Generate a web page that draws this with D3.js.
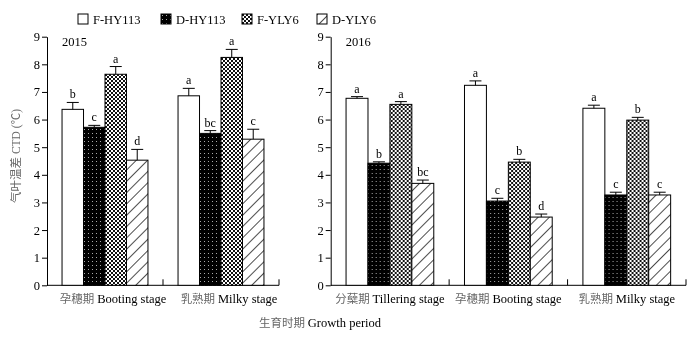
<!DOCTYPE html>
<html>
<head>
<meta charset="utf-8">
<script src="https://cdn.jsdelivr.net/npm/d3@7"></script>
<style>
  body { margin: 0; background: #fff; }
  svg { will-change: transform; -webkit-font-smoothing: antialiased; }
  text { font-family: "Liberation Serif", "Noto Sans CJK SC", serif; }
</style>
</head>
<body>
<svg id="chart"></svg>
<script>
// data
const series = ["F-HY113", "D-HY113", "F-YLY6", "D-YLY6"];
const stages2015 = ["孕穗期 Booting stage", "乳熟期 Milky stage"];
const stages2016 = ["分蘖期 Tillering stage", "孕穗期 Booting stage", "乳熟期 Milky stage"];
const yTicks = [0, 1, 2, 3, 4, 5, 6, 7, 8, 9];

// one row per stage, one column per series
const ctd2015 = [[6.37, 5.72, 7.64, 4.53], [6.86, 5.50, 8.25, 5.29]];
const err2015 = [[0.25, 0.07, 0.28, 0.39], [0.27, 0.10, 0.29, 0.36]];
const sig2015 = [["b", "c", "a", "d"], ["a", "bc", "a", "c"]];

const ctd2016 = [[6.77, 4.42, 6.55, 3.69], [7.24, 3.05, 4.46, 2.47], [6.41, 3.27, 5.98, 3.27]];
const err2016 = [[0.06, 0.05, 0.10, 0.12], [0.16, 0.10, 0.10, 0.11], [0.11, 0.10, 0.10, 0.10]];
const sig2016 = [["a", "b", "a", "bc"], ["a", "c", "b", "d"], ["a", "c", "b", "c"]];

const width = 699, height = 337;
const svg = d3.select("#chart").attr("width", width).attr("height", height);

// fill patterns
const defs = svg.append("defs");

const dots = defs.append("pattern").attr("id", "pat-dots")
  .attr("patternUnits", "userSpaceOnUse").attr("width", 4).attr("height", 4);
dots.append("rect").attr("width", 4).attr("height", 4).attr("fill", "#000");
dots.append("rect").attr("x", 1).attr("y", 1).attr("width", 1).attr("height", 1).attr("fill", "#aaa");

const check = defs.append("pattern").attr("id", "pat-check")
  .attr("patternUnits", "userSpaceOnUse").attr("width", 4).attr("height", 4);
check.append("rect").attr("width", 4).attr("height", 4).attr("fill", "#fff");
check.append("rect").attr("x", 0).attr("y", 0).attr("width", 2).attr("height", 2).attr("fill", "#111");
check.append("rect").attr("x", 2).attr("y", 2).attr("width", 2).attr("height", 2).attr("fill", "#111");

const hatch = defs.append("pattern").attr("id", "pat-hatch")
  .attr("patternUnits", "userSpaceOnUse").attr("width", 8).attr("height", 8)
  .attr("patternTransform", "rotate(45)");
hatch.append("rect").attr("width", 8).attr("height", 8).attr("fill", "#fff");
hatch.append("line").attr("x1", 0).attr("y1", 0).attr("x2", 0).attr("y2", 8)
  .attr("stroke", "#000").attr("stroke-width", 1.4);

const fills = d3.scaleOrdinal()
  .domain(series)
  .range(["#fff", "url(#pat-dots)", "url(#pat-check)", "url(#pat-hatch)"]);

// shared value scale
const y = d3.scaleLinear().domain([0, 9]).range([285.3, 36.7]);

function cjkLabel(sel, label) {
  const i = label.indexOf(" ");
  sel.append("tspan").attr("fill", "#666").attr("font-size", 11.5).text(label.slice(0, i + 1));
  sel.append("tspan").attr("fill", "#000").text(label.slice(i + 1));
}

function drawPanel(x0, x1, stages, values, errors, letters, year, labelShift) {
  const g = svg.append("g");

  const x = d3.scaleBand().domain(stages).range([x0, x1]).padding(0);
  const xs = d3.scaleBand().domain(series).range([0, x.bandwidth()])
    .paddingInner(0).paddingOuter(0.7);

  // y axis
  const yAxis = g.append("g")
    .attr("transform", `translate(${x0},0)`)
    .call(d3.axisLeft(y).tickValues(yTicks).tickSize(5).tickSizeOuter(0).tickFormat(d3.format("d")));
  yAxis.select(".domain").attr("stroke-width", 1);
  yAxis.selectAll("text").attr("font-size", 12.5).attr("fill", "#000").attr("x", -7);

  // x axis line with upward ticks at band edges
  g.append("line")
    .attr("x1", x0).attr("x2", x1).attr("y1", y(0)).attr("y2", y(0))
    .attr("stroke", "#000");
  stages.forEach(s => {
    const xe = x(s) + x.bandwidth();
    g.append("line")
      .attr("x1", xe).attr("x2", xe).attr("y1", y(0)).attr("y2", y(0) - 6)
      .attr("stroke", "#000");
  });

  // category labels
  stages.forEach(s => {
    const t = g.append("text")
      .attr("x", x(s) + x.bandwidth() / 2 + labelShift)
      .attr("y", 303)
      .attr("text-anchor", "middle")
      .attr("font-size", 12.5);
    cjkLabel(t, s);
  });

  // bars
  const groups = g.selectAll(".stage")
    .data(stages.map((s, i) => ({ stage: s, i })))
    .enter().append("g")
    .attr("class", "stage")
    .attr("transform", d => `translate(${x(d.stage)},0)`);

  const cells = groups.selectAll(".bar")
    .data(d => series.map((k, j) => ({
      key: k, value: values[d.i][j], err: errors[d.i][j], sig: letters[d.i][j]
    })))
    .enter().append("g").attr("class", "bar");

  cells.append("rect")
    .attr("x", d => xs(d.key))
    .attr("y", d => y(d.value))
    .attr("width", xs.bandwidth())
    .attr("height", d => y(0) - y(d.value))
    .attr("fill", d => fills(d.key))
    .attr("stroke", "#000")
    .attr("stroke-width", 1);

  // error bars
  cells.append("line")
    .attr("x1", d => xs(d.key) + xs.bandwidth() / 2)
    .attr("x2", d => xs(d.key) + xs.bandwidth() / 2)
    .attr("y1", d => y(d.value))
    .attr("y2", d => y(d.value + d.err))
    .attr("stroke", "#000");
  cells.append("line")
    .attr("x1", d => xs(d.key) + xs.bandwidth() / 2 - 6)
    .attr("x2", d => xs(d.key) + xs.bandwidth() / 2 + 6)
    .attr("y1", d => y(d.value + d.err))
    .attr("y2", d => y(d.value + d.err))
    .attr("stroke", "#000");

  // significance letters
  cells.append("text")
    .attr("x", d => xs(d.key) + xs.bandwidth() / 2)
    .attr("y", d => y(d.value + d.err) - 4)
    .attr("text-anchor", "middle")
    .attr("font-size", 12)
    .attr("fill", "#000")
    .text(d => d.sig);

  // year
  g.append("text")
    .attr("x", x0 + 15).attr("y", 46)
    .attr("font-size", 12.5)
    .attr("fill", "#000")
    .text(year);
}

drawPanel(47, 279, stages2015, ctd2015, err2015, sig2015, "2015", 8);
drawPanel(330.7, 686, stages2016, ctd2016, err2016, sig2016, "2016", 0);

// y axis title
svg.append("text")
  .attr("transform", "translate(20,156) rotate(-90)")
  .attr("text-anchor", "middle")
  .attr("font-size", 11.5)
  .attr("fill", "#666")
  .text("气叶温差 CTD (℃)");

// x axis title
const xTitle = svg.append("text")
  .attr("x", 320).attr("y", 327)
  .attr("text-anchor", "middle")
  .attr("font-size", 12.5);
cjkLabel(xTitle, "生育时期 Growth period");

// legend
const legendX = [78, 161, 242, 317];
const legend = svg.selectAll(".legend")
  .data(series)
  .enter().append("g")
  .attr("class", "legend")
  .attr("transform", (d, i) => `translate(${legendX[i]},14)`);
legend.append("rect")
  .attr("width", 10).attr("height", 10)
  .attr("fill", d => fills(d))
  .attr("stroke", "#000");
legend.append("text")
  .attr("x", 15).attr("y", 9.5)
  .attr("font-size", 12.5)
  .attr("fill", "#000")
  .text(d => d);
</script>
</body>
</html>
